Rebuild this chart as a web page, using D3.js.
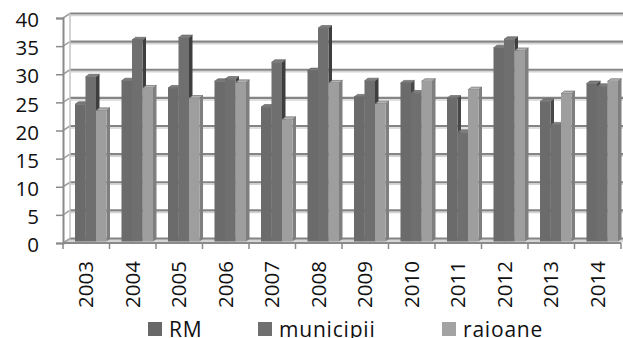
<!DOCTYPE html>
<html>
<head>
<meta charset="utf-8">
<script src="https://cdn.jsdelivr.net/npm/d3@7"></script>
<style>
  html, body { margin: 0; padding: 0; background: #fff; }
  svg { display: block; }
  text { font-family: "Open Sans", "Noto Sans", sans-serif; fill: #111; }
</style>
</head>
<body>
<svg id="chart" width="623" height="338"></svg>
<script>
// Yearly values per area
const years = ["2003","2004","2005","2006","2007","2008","2009","2010","2011","2012","2013","2014"];
const seriesNames = ["RM", "municipii", "raioane"];
const rm        = [24.5, 28.7, 27.4, 28.6, 24.0, 30.5, 25.8, 28.3, 25.6, 34.6, 25.0, 28.2];
const municipii = [29.4, 36.0, 36.4, 29.0, 32.0, 38.1, 28.7, 26.5, 19.5, 36.1, 20.8, 27.7];
const raioane   = [23.4, 27.4, 25.6, 28.4, 21.8, 28.3, 24.6, 28.6, 27.1, 34.1, 26.4, 28.6];
const yTicks    = [0, 5, 10, 15, 20, 25, 30, 35, 40];

const seriesValues = [rm, municipii, raioane];
const faceColors = [
  { front: "#6b6b6b", side: "#474747", top: "#7c7c7c", legend: "#686868" },
  { front: "#6f6f6f", side: "#3e3e3e", top: "#808080", legend: "#6f6f6f" },
  { front: "#9e9e9e", side: "#7f7f7f", top: "#b3b3b3", legend: "#a3a3a3" }
];

const svg = d3.select("#chart");

// Front plane of the 3D box and the depth offset to the back wall
const left = 63, right = 621, floorY = 243, topY = 18;
const depthX = 7, depthY = -4.5;

const x = d3.scaleBand().domain(years).range([left, right]).padding(0);
const yFront = d3.scaleLinear().domain([0, 40]).range([floorY, topY]);
const yBack = v => yFront(v) + depthY;

// bars stand partway into the box depth
const barBase = floorY - 1.5;
const yBar = d3.scaleLinear().domain([0, 40]).range([barBase, barBase - 224]);
const inner = d3.scaleBand().domain(seriesNames).range([12, 43.5]).padding(0);
const barDX = 3.5, barDY = -2.6;

// floor
svg.append("polygon")
  .attr("points", [[left, floorY], [right, floorY], [right + depthX, floorY + depthY], [left + depthX, floorY + depthY]].join(" "))
  .attr("fill", "#d6d6d6");

// back-wall gridlines (with a soft light line underneath)
const grid = svg.append("g");
yTicks.forEach(v => {
  const yb = yBack(v);
  grid.append("line")
    .attr("x1", left + depthX).attr("x2", 623)
    .attr("y1", yb + 2).attr("y2", yb + 2)
    .attr("stroke", "#d4d4d4").attr("stroke-width", 1.5);
  grid.append("line")
    .attr("x1", left + depthX).attr("x2", 623)
    .attr("y1", yb).attr("y2", yb)
    .attr("stroke", "#858585").attr("stroke-width", 2.2);
  // left wall segment
  grid.append("line")
    .attr("x1", left).attr("x2", left + depthX)
    .attr("y1", yFront(v)).attr("y2", yb)
    .attr("stroke", "#a0a0a0").attr("stroke-width", 1.5);
});
// back wall left edge
grid.append("line")
  .attr("x1", left + depthX).attr("x2", left + depthX)
  .attr("y1", yBack(40)).attr("y2", yBack(0))
  .attr("stroke", "#c4c4c4").attr("stroke-width", 1.5);

// bars: front face, side face and top face
const bars = svg.append("g");
years.forEach((yr, i) => {
  seriesNames.forEach((s, k) => {
    const v = seriesValues[k][i];
    const x0 = x(yr) + inner(s);
    const w = inner.bandwidth();
    const yt = yBar(v);
    const c = faceColors[k];
    const g = bars.append("g");
    g.append("polygon")
      .attr("points", [[x0 + w, yt], [x0 + w + barDX, yt + barDY], [x0 + w + barDX, barBase + barDY], [x0 + w, barBase]].join(" "))
      .attr("fill", c.side);
    g.append("polygon")
      .attr("points", [[x0, yt], [x0 + barDX, yt + barDY], [x0 + w + barDX, yt + barDY], [x0 + w, yt]].join(" "))
      .attr("fill", c.top).attr("stroke", "#5a5a5a").attr("stroke-width", 0.6);
    g.append("rect")
      .attr("x", x0).attr("y", yt)
      .attr("width", w).attr("height", barBase - yt)
      .attr("fill", c.front);
  });
});

// y axis at the front left edge
const yAxis = d3.axisLeft(yFront).tickValues(yTicks).tickSize(7).tickPadding(17).tickFormat(d3.format("d"));
const ya = svg.append("g").attr("transform", `translate(${left},0)`).call(yAxis);
ya.select(".domain").attr("stroke", "#8a8a8a").attr("stroke-width", 2);
ya.selectAll(".tick line").attr("stroke", "#8a8a8a").attr("stroke-width", 1.5);
ya.selectAll(".tick text").attr("font-size", 20.5).attr("dy", "0.42em").style("fill", "#111");

// category axis along the front floor edge
const xa = svg.append("g");
xa.append("line")
  .attr("x1", left).attr("x2", right)
  .attr("y1", floorY).attr("y2", floorY)
  .attr("stroke", "#8a8a8a").attr("stroke-width", 2);
years.concat(["end"]).forEach((yr, i) => {
  const xx = left + i * x.bandwidth();
  xa.append("line")
    .attr("x1", xx).attr("x2", xx)
    .attr("y1", floorY).attr("y2", floorY + 6)
    .attr("stroke", "#8a8a8a").attr("stroke-width", 1.5);
});
xa.selectAll("text.year")
  .data(years)
  .join("text")
  .attr("class", "year")
  .attr("transform", d => `translate(${x(d) + x.bandwidth() / 2 + 7},261) rotate(-90)`)
  .attr("text-anchor", "end")
  .attr("font-size", 20.5)
  .text(d => d);

// legend
const legendX = [148, 258, 442];
const legend = svg.append("g");
seriesNames.forEach((s, k) => {
  legend.append("rect")
    .attr("x", legendX[k]).attr("y", 322)
    .attr("width", 14).attr("height", 14)
    .attr("fill", faceColors[k].legend);
  legend.append("text")
    .attr("x", legendX[k] + 21).attr("y", 337)
    .attr("font-size", 21)
    .attr("letter-spacing", 0.8)
    .text(s);
});
</script>
</body>
</html>
